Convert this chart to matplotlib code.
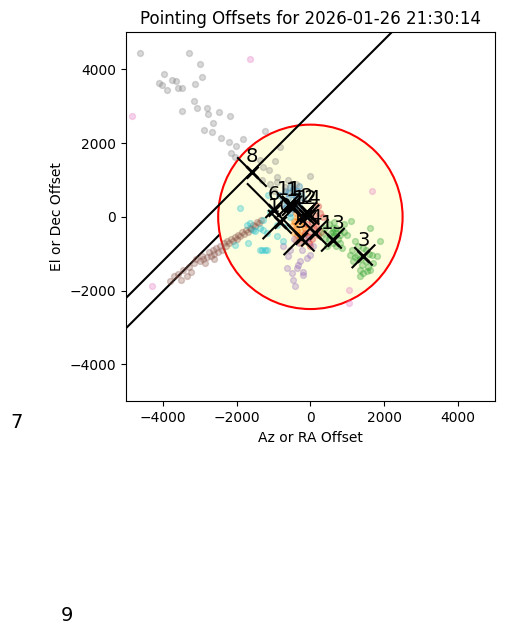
import matplotlib
matplotlib.use("Agg")
import matplotlib.pyplot as plt
from matplotlib.patches import Circle

title = "Pointing Offsets for 2026-01-26 21:30:14"

# fitted offsets per target: label, centre, half arm lengths along the two diagonals
labels = ["1", "2", "3", "4", "5", "6", "7", "8", "9", "10", "11", "12", "13", "14"]
cx = [-500, -100, 1440, 122, -257, -1000, -7980, -1585, -6610, -827, -580, -150, 610, -30]
cy = [300, 120, -1070, -432, -568, 190, -6000, 1215, -11250, -135, 320, 60, -620, 60]
arm_a = [250, 250, 300, 350, 450, 200, 6000, 4500, 400, 450, 300, 250, 300, 250]
arm_b = [250, 250, 230, 300, 350, 700, 400, 380, 400, 300, 300, 250, 220, 250]

# raw samples per target
blue_x = [-700, -600, -550, -500, -450, -400, -350, -300, -650, -750, -200, -450, -300, -550, -850,
          -620, -380, -480, -700, -260]
blue_y = [700, 500, 800, 350, 600, 450, 700, 300, 300, 450, 500, 200, 850, 100, 600,
          650, 550, 750, 250, 650]
orange_x = [-450, -400, -350, -300, -250, -200, -350, -500, -300, -150, -400, -250, -450, -200, -350,
            -300, -420, -280, -180, -380]
orange_y = [-100, -300, -500, -200, -400, -100, 0, -250, -600, -300, 100, -700, -450, -550, -350,
            -50, -150, -480, -250, -620]
green13_x = [400, 500, 600, 700, 800, 900, 500, 600, 700, 400, 800, 1000, 650, 750, 550,
             450, 900, 850, 350, 650, 1100, 700, 600, 800]
green13_y = [-300, -200, -400, -300, -500, -400, -600, -700, -800, -600, -700, -500, -150, -600, -450,
             -800, -200, -850, -450, -500, -100, -450, -300, -350]
green3_x = [1117, 1206, 1612, 1883, 1160, 1341, 1523, 1702, 1252, 1431, 1659, 1794, 1431, 1341,
            1070, 1612, 1300, 1500, 1400, 1600, 1200, 1500, 1350, 1550]
green3_y = [-892, -667, -306, -667, -1207, -1432, -1477, -1252, -1027, -846, -1027, -1072, -1522, -1613,
            -1027, -1432, -800, -1200, -1300, -1000, -1100, -900, -1150, -1350]
red_x = [-100, 0, 100, 200, 50, 150, 250, -50, 300, 200, 100, 350, -150, 50, 0, 150, -50]
red_y = [-200, -400, -300, -500, -600, -100, 100, -700, -400, 300, 50, 0, -450, -150, -800, -250, -550]
purple_x = [-600, -330, -375, -645, -466, -420, -195, -14, -239, -556, -104, 76, -737, -285, -510,
            -100, -300, -450, -200]
purple_y = [-1072, -1297, -1387, -1387, -1703, -1883, -1568, -1027, -892, -892, -1117, -802, -802, -1207,
            -1522, -600, -700, -600, -1500]
brown_x = [-3800, -3700, -3600, -3500, -3450, -3300, -3250, -3150, -3100, -3000, -2950, -2900, -2800,
           -2750, -2700, -2650, -2600, -2550, -2500, -2450, -2400, -2350, -2300, -2250, -2200, -2150,
           -2100, -2050, -2000, -1950, -1900, -1850, -1800, -1750, -1700, -1650, -1600, -1550, -1500,
           -1450, -1400, -1350, -2850, -3350, -2600]
brown_y = [-1750, -1600, -1550, -1700, -1450, -1350, -1500, -1250, -1150, -1200, -1050, -1150, -1100,
           -950, -1050, -900, -1000, -850, -950, -800, -900, -700, -780, -650, -720, -600, -650, -550,
           -600, -480, -520, -420, -470, -350, -400, -300, -330, -230, -260, -150, -180, -80, -1250,
           -1600, -1150]
pink_x = [-1640, -4829, -4304, 1658, 1051, 1051]
pink_y = [4289, 2722, -1865, 703, -1973, -2333]
gray_x = [-4621, -3285, -2995, -3962, -2932, -4097, -4016, -3745, -3653, -3881, -3583, -3491, -3122,
          -3157, -3067, -2797, -3474, -2770, -2472, -2182, -2634, -2886, -2661, -2417, -2200, -2011,
          -1821, -1225, -2146, -2046, -1369, -1279, -1125, -954, -827, -916, -14, -1300, -1100, -900,
          -700, -600, -400, -1000]
gray_y = [4451, 4451, 4154, 3884, 3803, 3641, 3568, 3722, 3676, 3451, 3505, 3505, 3613, 3154, 2965,
          2965, 2865, 2776, 2830, 2722, 2532, 2343, 2289, 2143, 2018, 1911, 2100, 2316, 1722, 1613,
          1541, 1359, 1270, 1505, 1900, 1089, 1108, 1000, 900, 950, 800, 1000, 900, 700]
cyan_x = [-1911, -1144, -1279, -1369, -1233, -1369, -916, -737, -1188, -645, -556, -1549, -1640,
          -1098, -916, -1730, -1504, -1323, -1188, -1279, -2046, -1686]
cyan_y = [235, 595, -81, -306, -892, -892, -532, -667, -441, -261, 9, -351, -171, 144, -216, -216,
          -396, -892, -892, -351, -757, -712]

samples = [
    (blue_x, blue_y, "C0"),
    (orange_x, orange_y, "C1"),
    (green3_x, green3_y, "C2"),
    (red_x, red_y, "C3"),
    (purple_x, purple_y, "C4"),
    (brown_x, brown_y, "C5"),
    (pink_x, pink_y, "C6"),
    (gray_x, gray_y, "C7"),
    (cyan_x, cyan_y, "C9"),
    (green13_x, green13_y, "C2"),
]

fig = plt.figure(figsize=(5.08, 6.35), dpi=100)
ax = fig.add_axes([0.248, 0.367, 0.726, 0.583])

circle = Circle((0, 0), 2500, facecolor="lightyellow", edgecolor="red",
                linewidth=1.5, zorder=1)
ax.add_patch(circle)

for xs, ys, color in samples:
    ax.scatter(xs, ys, s=18, color=color, alpha=0.3, zorder=2)

for i in range(len(labels)):
    x, y, a, b = cx[i], cy[i], arm_a[i], arm_b[i]
    # target 7 sits behind the circle patch
    z = 0.5 if labels[i] == "7" else 3
    ax.plot([x - a, x + a], [y - a, y + a], color="black", lw=1.5, zorder=z)
    ax.plot([x - b, x + b], [y + b, y - b], color="black", lw=1.5, zorder=z)
    ax.plot(x, y, "kx", ms=8, mew=2, zorder=z)
    ax.text(x, y + 170, labels[i], ha="center", va="bottom", fontsize=14, zorder=4)

ax.set_xlim(-5000, 5000)
ax.set_ylim(-5000, 5000)
ax.set_aspect("equal")
ax.set_xticks([-4000, -2000, 0, 2000, 4000])
ax.set_yticks([-4000, -2000, 0, 2000, 4000])
ax.set_xlabel("Az or RA Offset")
ax.set_ylabel("El or Dec Offset")
ax.set_title(title)

fig.savefig("out.png", dpi=100)
